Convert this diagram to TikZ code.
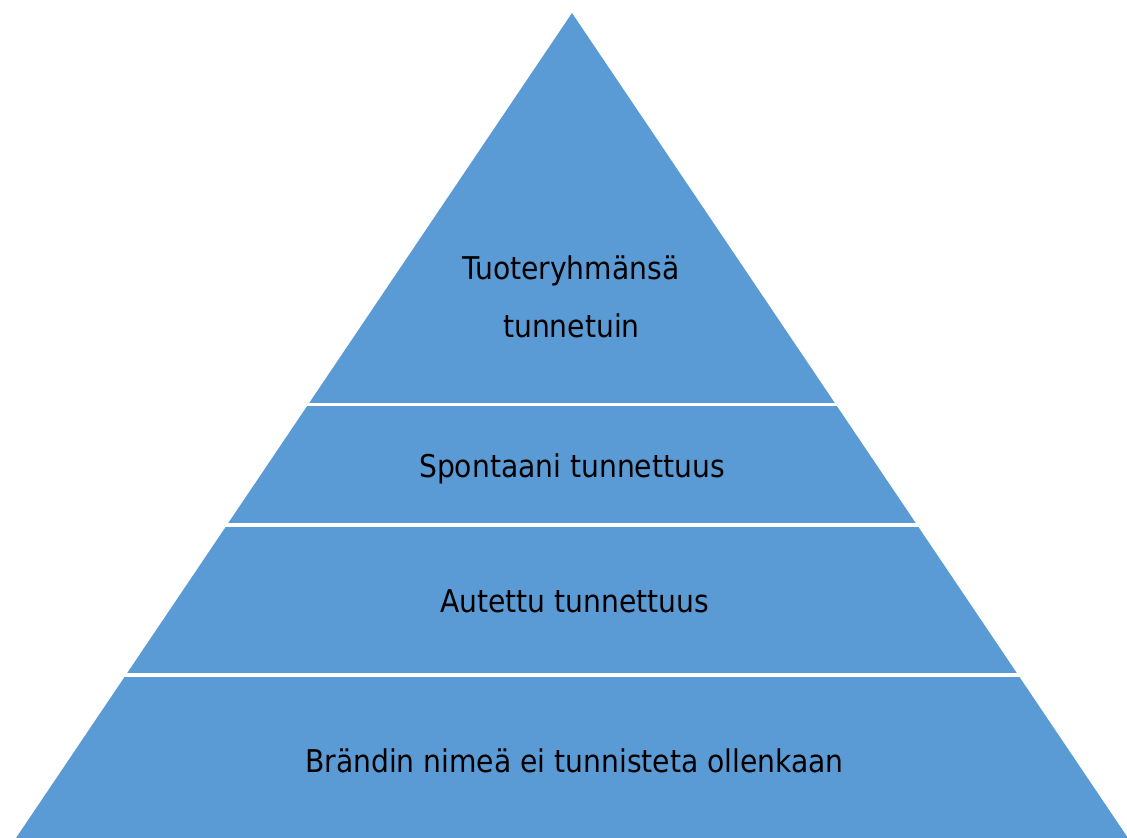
\documentclass[tikz,border=0pt]{standalone}
\usepackage{fontspec}
\setmainfont{DejaVu Sans Condensed}
\usepackage{tikz}
\usetikzlibrary{calc}
\definecolor{LayerColor}{RGB}{91,155,213}
\tikzset{
  layer/.style={fill=LayerColor, draw=none},
  gapline/.style={draw=white, line width=2.5pt, shorten <=-3pt, shorten >=-3pt},
  layertext/.style={font=\fontsize{23.5}{28}\selectfont, text=black, anchor=base, inner sep=0pt},
}
\begin{document}
\begin{tikzpicture}[x=0.75pt, y=-0.75pt]
  \useasboundingbox (0,0) rectangle (1127,838);
  \coordinate (apex) at (572,13);
  \coordinate (bl) at (16,838);
  \coordinate (br) at (1128,838);
  % edge points of the three gaps
  \foreach \n/\t in {a/0.4743, b/0.6206, c/0.8024} {
    \coordinate (l\n) at ($(apex)!\t!(bl)$);
    \coordinate (r\n) at ($(apex)!\t!(br)$);
  }
  \fill[layer] (apex) -- (br) -- (bl) -- cycle;
  \draw[gapline] (la) -- (ra);
  \draw[gapline] (lb) -- (rb);
  \draw[gapline] (lc) -- (rc);

  \node[layertext] (top1) at (571,279) {Tuoteryhmänsä};
  \node[layertext] (top2) at (571.5,337) {tunnetuin};
  \node[layertext] (spont) at (572,477) {Spontaani tunnettuus};
  \node[layertext] (aided) at (574.5,612) {Autettu tunnettuus};
  \node[layertext] (none) at (574.5,772) {Brändin nimeä ei tunnisteta ollenkaan};
\end{tikzpicture}
\end{document}
